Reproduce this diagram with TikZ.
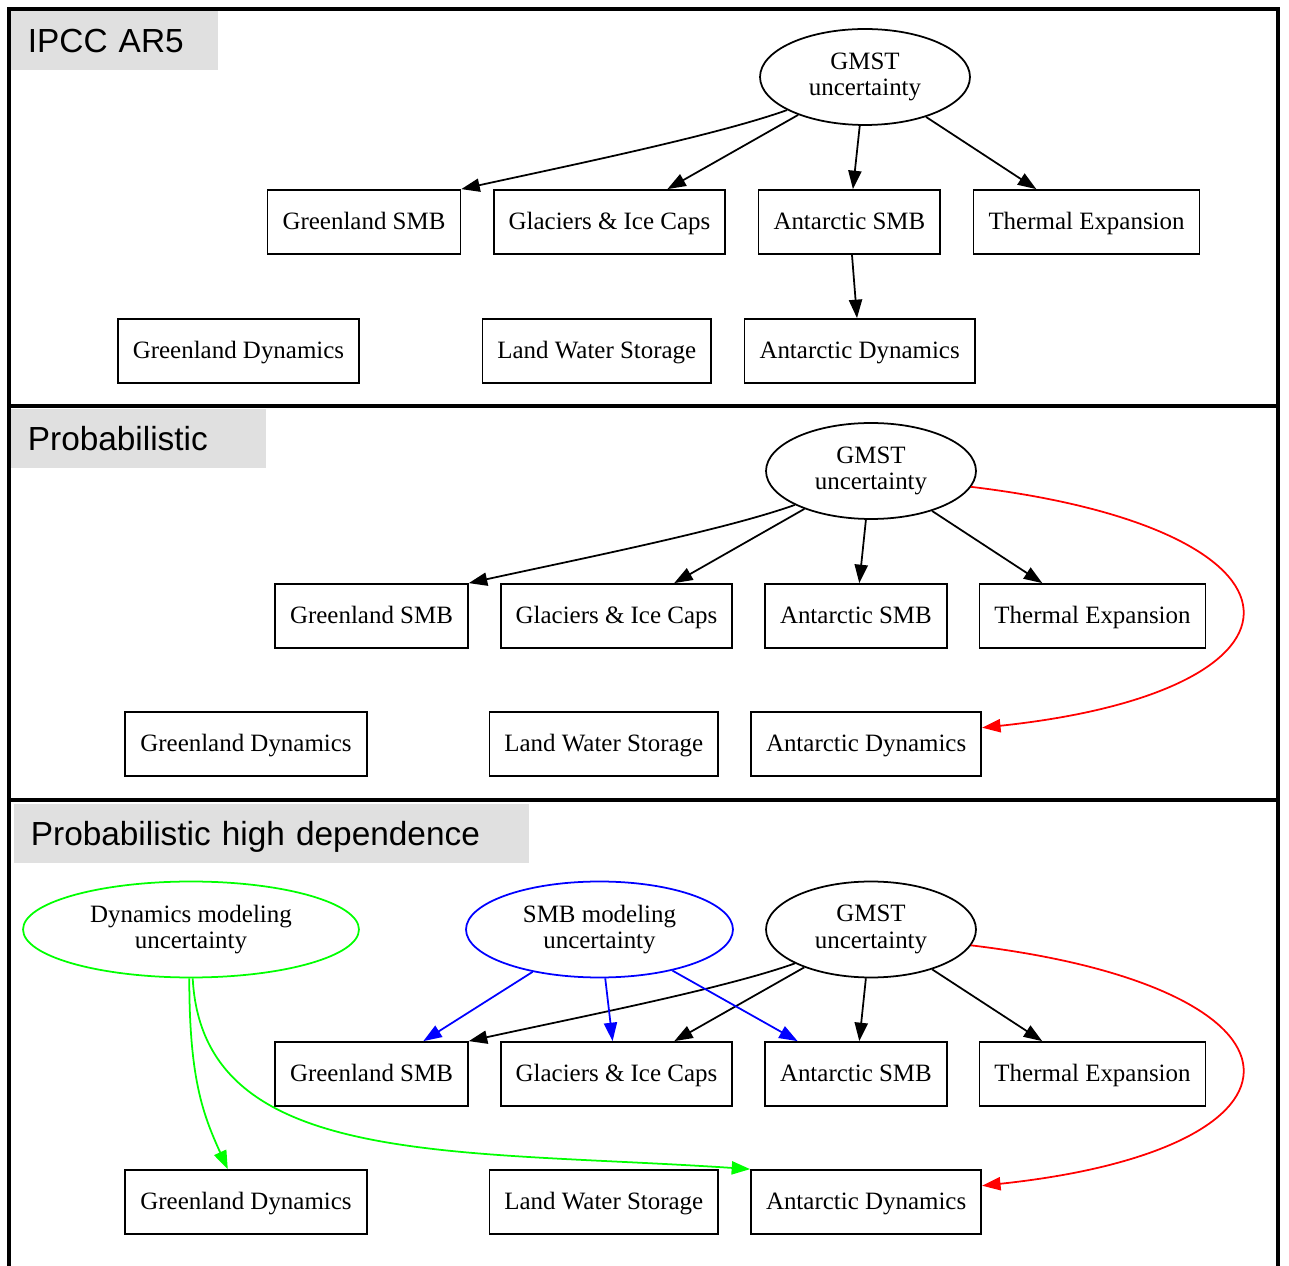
\documentclass[tikz,border=0pt]{standalone}
\usepackage{fontspec}
\setmainfont{Liberation Serif}
\newfontfamily\headfont{Liberation Sans}
\usetikzlibrary{shapes,arrows.meta,positioning}
\definecolor{headgray}{RGB}{224,224,224}
\tikzstyle{quantity} = [rectangle, draw, inner xsep=0.3cm, inner ysep=0pt,
    minimum height=1.28cm, text height=11.5pt, text depth=3.2pt,
    font=\fontsize{14.2}{15.2}\selectfont]
\tikzstyle{driver} = [ellipse, draw, inner sep=0pt, minimum height=1.92cm,
    align=center, font=\fontsize{14.2}{15.2}\selectfont]
\tikzstyle{panel} = [draw, line width=1.8pt]
\tikzstyle{panelhead} = [rectangle, fill=headgray, anchor=north west, inner xsep=0.34cm,
    inner ysep=0pt, minimum height=1.18cm, text height=13.6pt, text depth=0pt,
    align=left, font=\headfont\fontsize{19}{22}\selectfont]

\begin{document}
\begin{tikzpicture}[x=0.02cm, y=-0.02cm, line width=1pt, >={Triangle[length=10.5pt,width=7.5pt]}]
    \useasboundingbox (0,0) rectangle (1289,1266);

    % the three panels
    \path[panel] (9,9) rectangle (1278,406);
    \path[panel] (9,406) rectangle (1278,800);
    \path[panel] (9,800) rectangle (1278,1290);

    \node[panelhead, text width=3.46cm] (headA) at (10,10) {IPCC AR5};
    \node[panelhead, text width=4.42cm] (headB) at (10,408) {Probabilistic};
    \node[panelhead, text width=9.63cm] (headC) at (13,803) {Probabilistic high dependence};

    % IPCC AR5
    \node[driver, minimum width=4.2cm] (gmstA) at (865,77) {GMST\\uncertainty};
    \node[quantity] (greenlandSmbA) at (364,222) {Greenland SMB};
    \node[quantity, right=0.63cm of greenlandSmbA] (glaciersA) {Glaciers \& Ice Caps};
    \node[quantity, right=0.63cm of glaciersA] (antarcticSmbA) {Antarctic SMB};
    \node[quantity, right=0.63cm of antarcticSmbA] (thermalA) {Thermal Expansion};
    \node[quantity] (greenlandDynA) at (238.5,351) {Greenland Dynamics};
    \node[quantity, right=2.43cm of greenlandDynA] (landWaterA) {Land Water Storage};
    \node[quantity, right=0.63cm of landWaterA] (antarcticDynA) {Antarctic Dynamics};

    \path[draw,->] (gmstA.203) .. controls +(-70,25) and +(110,-24) .. (greenlandSmbA.north east);
    \path[draw,->] (gmstA) -- (glaciersA);
    \path[draw,->] (gmstA) -- (antarcticSmbA);
    \path[draw,->] (gmstA) -- (thermalA);
    \path[draw,->] (antarcticSmbA) -- (antarcticDynA);

    % Probabilistic
    \node[driver, minimum width=4.2cm] (gmstB) at (871,471) {GMST\\uncertainty};
    \node[quantity] (greenlandSmbB) at (371.5,616) {Greenland SMB};
    \node[quantity, right=0.62cm of greenlandSmbB] (glaciersB) {Glaciers \& Ice Caps};
    \node[quantity, right=0.62cm of glaciersB] (antarcticSmbB) {Antarctic SMB};
    \node[quantity, right=0.62cm of antarcticSmbB] (thermalB) {Thermal Expansion};
    \node[quantity] (greenlandDynB) at (246,744) {Greenland Dynamics};
    \node[quantity, right=2.42cm of greenlandDynB] (landWaterB) {Land Water Storage};
    \node[quantity, right=0.62cm of landWaterB] (antarcticDynB) {Antarctic Dynamics};

    \path[draw,->] (gmstB.204) .. controls +(-70,25) and +(110,-24) .. (greenlandSmbB.north east);
    \path[draw,->] (gmstB) -- (glaciersB);
    \path[draw,->] (gmstB) -- (antarcticSmbB);
    \path[draw,->] (gmstB) -- (thermalB);
    \path[draw,->,red] (gmstB.-9) .. controls +(357,43) and +(349,-37) .. (antarcticDynB.8);

    % Probabilistic high dependence
    \node[driver, minimum width=6.72cm, green] (dynModelC) at (191,929.5) {\color{black}Dynamics modeling\\\color{black}uncertainty};
    \node[driver, minimum width=5.34cm, blue] (smbModelC) at (599.5,929.5) {\color{black}SMB modeling\\\color{black}uncertainty};
    \node[driver, minimum width=4.2cm] (gmstC) at (871,929.5) {GMST\\uncertainty};
    \node[quantity] (greenlandSmbC) at (371.5,1074) {Greenland SMB};
    \node[quantity, right=0.62cm of greenlandSmbC] (glaciersC) {Glaciers \& Ice Caps};
    \node[quantity, right=0.62cm of glaciersC] (antarcticSmbC) {Antarctic SMB};
    \node[quantity, right=0.62cm of antarcticSmbC] (thermalC) {Thermal Expansion};
    \node[quantity] (greenlandDynC) at (246,1202) {Greenland Dynamics};
    \node[quantity, right=2.42cm of greenlandDynC] (landWaterC) {Land Water Storage};
    \node[quantity, right=0.62cm of landWaterC] (antarcticDynC) {Antarctic Dynamics};

    \path[draw,->] (gmstC.204) .. controls +(-70,25) and +(110,-24) .. (greenlandSmbC.north east);
    \path[draw,->] (gmstC) -- (glaciersC);
    \path[draw,->] (gmstC) -- (antarcticSmbC);
    \path[draw,->] (gmstC) -- (thermalC);
    \path[draw,->,red] (gmstC.-9) .. controls +(357,43) and +(349,-37) .. (antarcticDynC.8);

    \path[draw,->,blue] (smbModelC) -- (greenlandSmbC);
    \path[draw,->,blue] (smbModelC) -- (glaciersC);
    \path[draw,->,blue] (smbModelC) -- (antarcticSmbC);

    \path[draw,->,green] (dynModelC.-92) .. controls +(0,100) and +(-25,-55) .. (greenlandDynC.119);
    \path[draw,->,green] (dynModelC.-88) .. controls +(10,190) and +(-300,-20) .. (antarcticDynC.north west);
\end{tikzpicture}
\end{document}
